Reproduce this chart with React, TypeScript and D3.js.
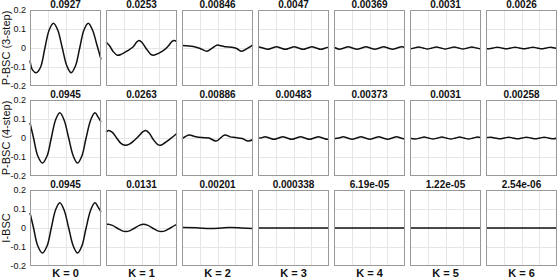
import React from "react";
import * as d3 from "d3";

type P = [number, number];

const kLabels = ["K = 0", "K = 1", "K = 2", "K = 3", "K = 4", "K = 5", "K = 6"];
const rowLabels = ["P-BSC (3-step)", "P-BSC (4-step)", "I-BSC"];
const titles3 = ["0.0927", "0.0253", "0.00846", "0.0047", "0.00369", "0.0031", "0.0026"];
const titles4 = ["0.0945", "0.0263", "0.00886", "0.00483", "0.00373", "0.0031", "0.00258"];
const titlesI = ["0.0945", "0.0131", "0.00201", "0.000338", "6.19e-05", "1.22e-05", "2.54e-06"];
const yTicks = [-0.2, -0.1, 0, 0.1, 0.2];
const yTickLabels = ["-0.2", "-0.1", "0", "0.1", "0.2"];
const xGrid = [0.25, 0.5, 0.75];

// Row 1: P-BSC (3-step)
const r1k0: P[] = [[0, -0.065], [0.035, -0.115], [0.09, -0.13], [0.15, -0.1], [0.21, 0.0], [0.27, 0.095], [0.33, 0.13], [0.39, 0.095], [0.455, 0.0], [0.52, -0.095], [0.58, -0.13], [0.64, -0.095], [0.70, 0.0], [0.76, 0.095], [0.82, 0.13], [0.88, 0.095], [0.94, 0.02], [1, -0.06]];
const r1k1: P[] = [[0, 0.032], [0.05, 0.012], [0.1, -0.018], [0.16, -0.038], [0.22, -0.032], [0.3, -0.015], [0.38, 0.005], [0.43, 0.03], [0.465, 0.04], [0.51, 0.028], [0.57, -0.005], [0.63, -0.033], [0.67, -0.038], [0.74, -0.028], [0.82, -0.01], [0.88, 0.012], [0.93, 0.035], [0.96, 0.04], [1, 0.033]];
const r1k2: P[] = [[0, 0.013], [0.1, 0.01], [0.2, 0.004], [0.27, -0.005], [0.35, -0.017], [0.42, -0.002], [0.49, 0.015], [0.55, 0.012], [0.62, 0.006], [0.7, 0.004], [0.77, -0.003], [0.84, -0.017], [0.92, -0.002], [1, 0.017]];
const r1k3: P[] = [[0, 0.007], [0.07, 0], [0.135, -0.007], [0.2, 0], [0.26, 0.007], [0.32, 0], [0.385, -0.007], [0.45, 0], [0.51, 0.007], [0.57, 0], [0.635, -0.007], [0.7, 0], [0.76, 0.007], [0.82, 0], [0.885, -0.007], [0.95, 0], [1, 0.006]];
const r1k4: P[] = [[0, 0.004], [0.075, -0.006], [0.14, 0], [0.2, 0.006], [0.26, 0], [0.325, -0.006], [0.39, 0], [0.45, 0.006], [0.51, 0], [0.575, -0.006], [0.64, 0], [0.7, 0.006], [0.76, 0], [0.825, -0.006], [0.89, 0], [0.95, 0.006], [1, 0.003]];
const r1k5: P[] = [[0, -0.005], [0.06, 0], [0.12, 0.005], [0.185, 0], [0.245, -0.005], [0.31, 0], [0.37, 0.005], [0.435, 0], [0.495, -0.005], [0.56, 0], [0.62, 0.005], [0.685, 0], [0.745, -0.005], [0.81, 0], [0.87, 0.005], [0.935, 0], [1, -0.005]];
const r1k6: P[] = [[0, -0.002], [0.035, -0.0045], [0.1, 0], [0.16, 0.0045], [0.22, 0], [0.285, -0.0045], [0.35, 0], [0.41, 0.0045], [0.47, 0], [0.535, -0.0045], [0.6, 0], [0.66, 0.0045], [0.72, 0], [0.785, -0.0045], [0.85, 0], [0.91, 0.0045], [0.97, 0], [1, -0.002]];

// Row 2: P-BSC (4-step)
const r2k0: P[] = [[0, 0.08], [0.05, 0.0], [0.11, -0.095], [0.175, -0.132], [0.24, -0.095], [0.30, 0.0], [0.36, 0.095], [0.42, 0.133], [0.48, 0.095], [0.545, 0.0], [0.61, -0.095], [0.67, -0.132], [0.73, -0.095], [0.79, 0.0], [0.855, 0.095], [0.915, 0.133], [0.96, 0.11], [1, 0.085]];
const r2k1: P[] = [[0, 0.03], [0.035, 0.04], [0.09, 0.03], [0.15, 0.0], [0.21, -0.028], [0.27, -0.038], [0.33, -0.032], [0.40, -0.012], [0.46, 0.01], [0.52, 0.033], [0.56, 0.04], [0.61, 0.025], [0.67, -0.01], [0.73, -0.035], [0.77, -0.038], [0.83, -0.025], [0.9, -0.006], [0.96, 0.012], [1, 0.025]];
const r2k2: P[] = [[0, -0.004], [0.1, 0.016], [0.18, 0.008], [0.28, 0.002], [0.38, 0.0], [0.48, -0.016], [0.6, 0.016], [0.68, 0.006], [0.75, 0.003], [0.85, -0.003], [0.93, -0.016], [1, -0.008]];
const r2k3: P[] = [[0, 0.002], [0.04, 0], [0.1, 0.007], [0.16, 0], [0.225, -0.007], [0.29, 0], [0.35, 0.007], [0.41, 0], [0.475, -0.007], [0.54, 0], [0.6, 0.007], [0.66, 0], [0.725, -0.007], [0.79, 0], [0.85, 0.007], [0.91, 0], [0.975, -0.007], [1, -0.005]];
const r2k4: P[] = [[0, -0.004], [0.07, 0], [0.13, 0.006], [0.19, 0], [0.255, -0.006], [0.32, 0], [0.38, 0.006], [0.44, 0], [0.505, -0.006], [0.57, 0], [0.63, 0.006], [0.69, 0], [0.755, -0.006], [0.82, 0], [0.88, 0.006], [0.94, 0], [1, -0.006]];
const r2k5: P[] = [[0, -0.001], [0.075, -0.005], [0.14, 0], [0.2, 0.005], [0.26, 0], [0.325, -0.005], [0.39, 0], [0.45, 0.005], [0.51, 0], [0.575, -0.005], [0.64, 0], [0.7, 0.005], [0.76, 0], [0.825, -0.005], [0.89, 0], [0.95, 0.005], [1, 0.002]];
const r2k6: P[] = [[0, 0.002], [0.07, 0.0045], [0.13, 0], [0.195, -0.0045], [0.26, 0], [0.32, 0.0045], [0.38, 0], [0.445, -0.0045], [0.51, 0], [0.57, 0.0045], [0.63, 0], [0.695, -0.0045], [0.76, 0], [0.82, 0.0045], [0.88, 0], [0.945, -0.0045], [1, 0]];

// Row 3: I-BSC
const r3k0: P[] = [[0, 0.08], [0.05, 0.0], [0.11, -0.095], [0.175, -0.132], [0.24, -0.095], [0.30, 0.0], [0.36, 0.095], [0.42, 0.133], [0.48, 0.095], [0.545, 0.0], [0.61, -0.095], [0.67, -0.132], [0.73, -0.095], [0.79, 0.0], [0.855, 0.095], [0.915, 0.133], [0.96, 0.11], [1, 0.085]];
const r3k1: P[] = [[0, 0.019], [0.03, 0.02], [0.09, 0.014], [0.155, 0], [0.22, -0.014], [0.28, -0.019], [0.34, -0.014], [0.405, 0], [0.47, 0.014], [0.53, 0.02], [0.59, 0.014], [0.655, 0], [0.72, -0.014], [0.78, -0.019], [0.84, -0.014], [0.905, 0], [0.97, 0.014], [1, 0.018]];
const r3k2: P[] = [[0, 0.002], [0.2, 0.001], [0.4, -0.003], [0.55, 0.0], [0.67, 0.003], [0.85, 0.0], [1, -0.003]];
const r3k3: P[] = [[0, 0], [0.5, 0], [1, 0]];
const r3k4: P[] = [[0, 0], [0.5, 0], [1, 0]];
const r3k5: P[] = [[0, 0], [0.5, 0], [1, 0]];
const r3k6: P[] = [[0, 0], [0.5, 0], [1, 0]];

const rows: P[][][] = [
  [r1k0, r1k1, r1k2, r1k3, r1k4, r1k5, r1k6],
  [r2k0, r2k1, r2k2, r2k3, r2k4, r2k5, r2k6],
  [r3k0, r3k1, r3k2, r3k3, r3k4, r3k5, r3k6],
];
const titleRows = [titles3, titles4, titlesI];

const FONT = "'Liberation Sans', Arial, Helvetica, sans-serif";
const LEFT0 = 30, COL_STEP = 76, PW = 71;
const TOP0 = 10, ROW_STEP = 90, PH = 76;

export default function App() {
  return (
    <svg
      width={558}
      height={280}
      style={{ position: "absolute", left: 0, top: 0, background: "#fff" }}
      fontFamily={FONT}
    >
      <rect x={0} y={0} width={558} height={280} fill="#fff" />
      {rows.map((row, j) => {
        const top = TOP0 + j * ROW_STEP;
        const y = d3.scaleLinear().domain([-0.2, 0.2]).range([top + PH, top]);
        return (
          <g key={j}>
            <text
              transform={`translate(9.5,${top + PH / 2}) rotate(-90)`}
              textAnchor="middle"
              fontSize={11}
              fill="#111"
            >
              {rowLabels[j]}
            </text>
            {yTicks.map((t, i) => (
              <text
                key={i}
                x={26}
                y={y(t)}
                dy="0.35em"
                textAnchor="end"
                fontSize={9}
                fill="#111"
              >
                {yTickLabels[i]}
              </text>
            ))}
            {row.map((data, i) => {
              const left = LEFT0 + i * COL_STEP;
              const x = d3.scaleLinear().domain([0, 1]).range([left, left + PW]);
              const line = d3
                .line<P>()
                .x((d) => x(d[0]))
                .y((d) => y(d[1]))
                .curve(d3.curveCatmullRom.alpha(0.5));
              return (
                <g key={i}>
                  {yTicks.slice(1, -1).map((t, k) => (
                    <line key={"h" + k} x1={left} x2={left + PW} y1={Math.round(y(t)) + 0.5} y2={Math.round(y(t)) + 0.5} stroke="#e6e6e6" strokeWidth={1} />
                  ))}
                  {xGrid.map((g, k) => (
                    <line key={"v" + k} x1={Math.round(x(g)) + 0.5} x2={Math.round(x(g)) + 0.5} y1={top} y2={top + PH} stroke="#e6e6e6" strokeWidth={1} />
                  ))}
                  <path d={line(data) || ""} fill="none" stroke="#111" strokeWidth={1.5} />
                  <rect x={left + 0.5} y={top + 0.5} width={PW - 1} height={PH - 1} fill="none" stroke="#999" strokeWidth={1} />
                  <text
                    x={left + PW / 2}
                    y={top - 2.5}
                    textAnchor="middle"
                    fontSize={10}
                    fontWeight="bold"
                    fill="#111"
                  >
                    {titleRows[j][i]}
                  </text>
                  {j === rows.length - 1 && (
                    <text
                      x={left + PW / 2}
                      y={277}
                      textAnchor="middle"
                      fontSize={11}
                      fontWeight="bold"
                      fill="#111"
                    >
                      {kLabels[i]}
                    </text>
                  )}
                </g>
              );
            })}
          </g>
        );
      })}
    </svg>
  );
}
